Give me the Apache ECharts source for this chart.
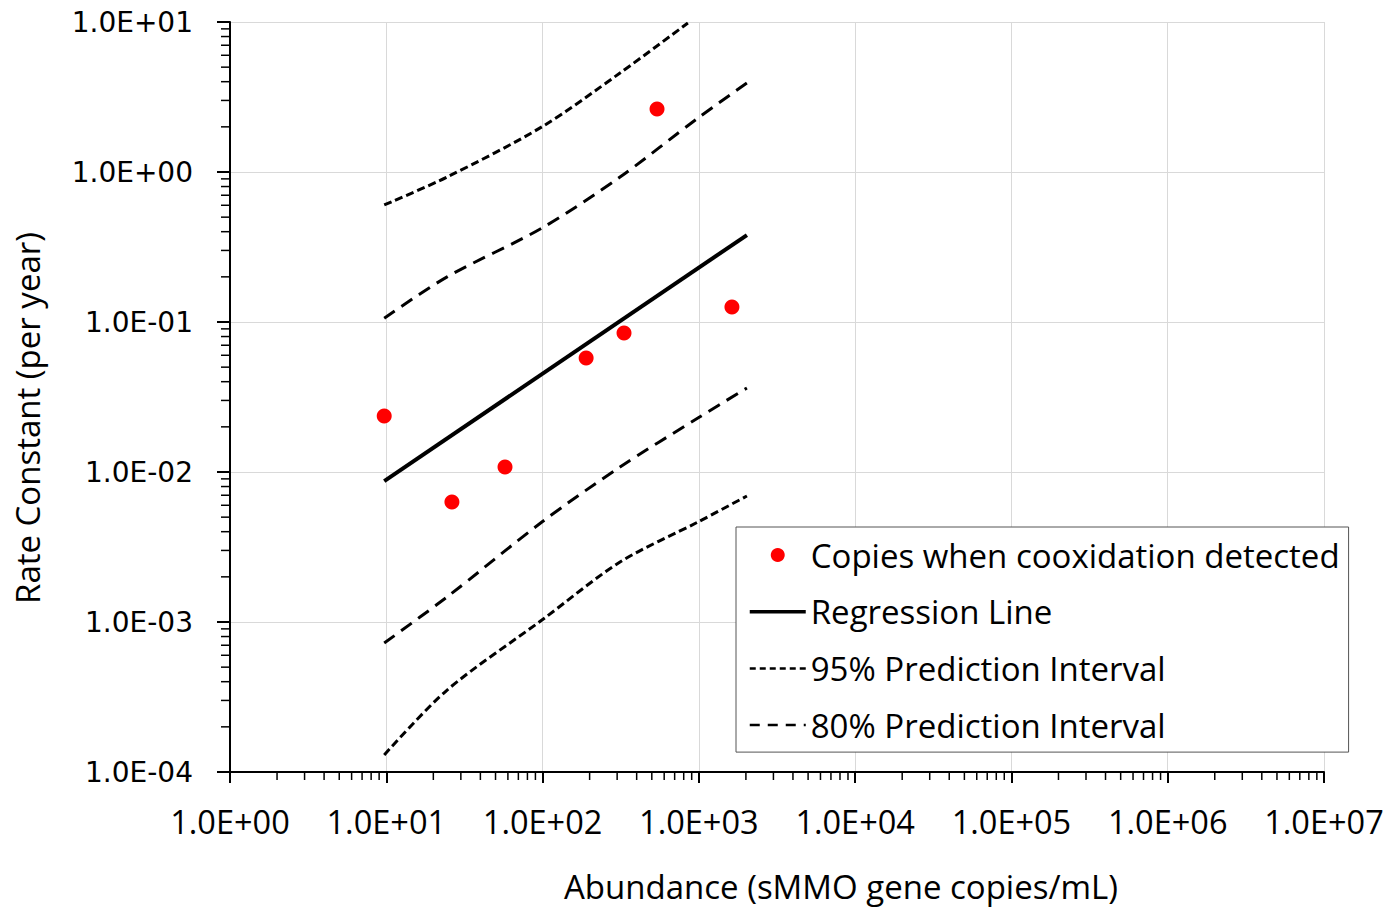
<!DOCTYPE html>
<html>
<head>
<meta charset="utf-8">
<script src="https://cdn.jsdelivr.net/npm/echarts@6/dist/echarts.min.js"></script>
<style>
html, body { margin: 0; padding: 0; background: #fff; }
#main { width: 1392px; height: 910px; }
</style>
</head>
<body>
<div id="main"></div>
<script>
// measured points
var abundance = [9.7, 26.3, 57.5, 190, 332, 540, 1628];
var rateK = [0.0236, 0.0063, 0.0108, 0.0575, 0.0845, 2.63, 0.126];

// regression line
var regX = [9.7, 2030];
var regY = [0.0087, 0.38];

// prediction intervals
var piX = [9.7, 24.5, 99, 313, 986, 2030];
var up95X = [9.7, 24.5, 99, 313, 851];
var upper95 = [0.603, 0.926, 2.0, 4.57, 9.85];
var upper80 = [0.106, 0.2, 0.423, 0.926, 2.29, 3.92];
var lower80 = [0.000724, 0.00147, 0.00464, 0.0108, 0.0229, 0.0363];
var lower95 = [0.00013, 0.000352, 0.00103, 0.00251, 0.00464, 0.00692];

function pairs(xs, ys) {
    return xs.map(function (x, i) { return [x, ys[i]]; });
}

function sci(v) {
    var e = Math.round(Math.log10(v));
    var a = Math.abs(e);
    return '1.0E' + (e < 0 ? '-' : '+') + (a < 10 ? '0' : '') + a;
}

// minor ticks at 2..9 of each decade
var xMinor = [], yMinor = [];
for (var e = 0; e < 7; e++) for (var m = 2; m <= 9; m++) xMinor.push([m * Math.pow(10, e)]);
for (var e2 = -4; e2 < 1; e2++) for (var m2 = 2; m2 <= 9; m2++) yMinor.push([1, m2 * Math.pow(10, e2)]);

var myChart = echarts.init(document.getElementById('main'), null, { renderer: 'svg' });

var mainFont = "'Open Sans', sans-serif";
var dash95 = [8, 4];
var dash80 = [13, 8];

function band(name, xs, ys, dash) {
    return {
        name: name,
        type: 'line',
        symbol: 'none',
        smooth: 0.3,
        lineStyle: { color: '#000', width: 3, type: dash },
        data: pairs(xs, ys)
    };
}

var option = {
    backgroundColor: '#fff',
    animation: false,
    grid: { left: 230, right: 68, top: 22, bottom: 138 },
    xAxis: {
        type: 'log',
        logBase: 10,
        min: 1,
        max: 1e7,
        splitNumber: 7,
        name: 'Abundance (sMMO gene copies/mL)',
        nameLocation: 'middle',
        nameGap: 98,
        nameTextStyle: { fontFamily: mainFont, fontSize: 33, color: '#000', padding: [0, 0, 0, 128] },
        axisLine: { lineStyle: { color: '#000', width: 2 } },
        axisTick: { length: 11, lineStyle: { color: '#000', width: 2 } },
        axisLabel: { formatter: sci, margin: 33, fontFamily: mainFont, fontSize: 32.5, color: '#000' },
        splitLine: { show: true, lineStyle: { color: '#d9d9d9', width: 1 } }
    },
    yAxis: {
        type: 'log',
        logBase: 10,
        min: 1e-4,
        max: 10,
        splitNumber: 5,
        name: 'Rate Constant (per year)',
        nameLocation: 'middle',
        nameGap: 186,
        nameTextStyle: { fontFamily: mainFont, fontSize: 33, color: '#000', padding: [0, 42, 0, 0] },
        axisLine: { lineStyle: { color: '#000', width: 2 } },
        axisTick: { length: 13, lineStyle: { color: '#000', width: 2 } },
        axisLabel: { formatter: sci, margin: 37, fontFamily: "'DejaVu Sans', sans-serif", fontSize: 28, color: '#000' },
        splitLine: { show: true, lineStyle: { color: '#d9d9d9', width: 1 } }
    },
    legend: {
        orient: 'vertical',
        left: 736,
        top: 527,
        padding: [11, 9, 10, 12],
        itemWidth: 56,
        itemHeight: 14,
        itemGap: 22.7,
        backgroundColor: '#fff',
        borderColor: '#555',
        borderWidth: 1,
        borderRadius: 0,
        textStyle: { fontFamily: mainFont, fontSize: 33, color: '#000', lineHeight: 34 },
        data: [
            { name: 'Copies when cooxidation detected', icon: 'circle' },
            { name: 'Regression Line', itemStyle: { opacity: 0 }, lineStyle: { width: 3.5, color: '#000' } },
            { name: '95% Prediction Interval', itemStyle: { opacity: 0 }, lineStyle: { width: 2.5, color: '#000', type: [6, 4] } },
            { name: '80% Prediction Interval', itemStyle: { opacity: 0 }, lineStyle: { width: 2.5, color: '#000', type: [10, 8] } }
        ]
    },
    series: [
        {
            name: 'Copies when cooxidation detected',
            type: 'scatter',
            symbolSize: 15,
            itemStyle: { color: '#ff0000', opacity: 1 },
            data: pairs(abundance, rateK),
            z: 4
        },
        {
            name: 'Regression Line',
            type: 'line',
            symbol: 'none',
            lineStyle: { color: '#000', width: 4 },
            data: pairs(regX, regY)
        },
        band('95% Prediction Interval', up95X, upper95, dash95),
        band('95% Prediction Interval', piX, lower95, dash95),
        band('80% Prediction Interval', piX, upper80, dash80),
        band('80% Prediction Interval', piX, lower80, dash80),
        {
            // minor ticks on x axis
            type: 'custom',
            silent: true,
            clip: false,
            data: xMinor,
            encode: { x: 0 },
            renderItem: function (params, api) {
                var p = api.coord([api.value(0), 1e-4]);
                return { type: 'line', shape: { x1: p[0], y1: p[1], x2: p[0], y2: p[1] + 8 }, style: { stroke: '#000', lineWidth: 1.5 } };
            }
        },
        {
            // minor ticks on y axis
            type: 'custom',
            silent: true,
            clip: false,
            data: yMinor,
            encode: { x: 0, y: 1 },
            renderItem: function (params, api) {
                var p = api.coord([1, api.value(1)]);
                return { type: 'line', shape: { x1: p[0] - 9, y1: p[1], x2: p[0], y2: p[1] }, style: { stroke: '#000', lineWidth: 1.5 } };
            }
        }
    ]
};

myChart.setOption(option);
</script>
</body>
</html>
